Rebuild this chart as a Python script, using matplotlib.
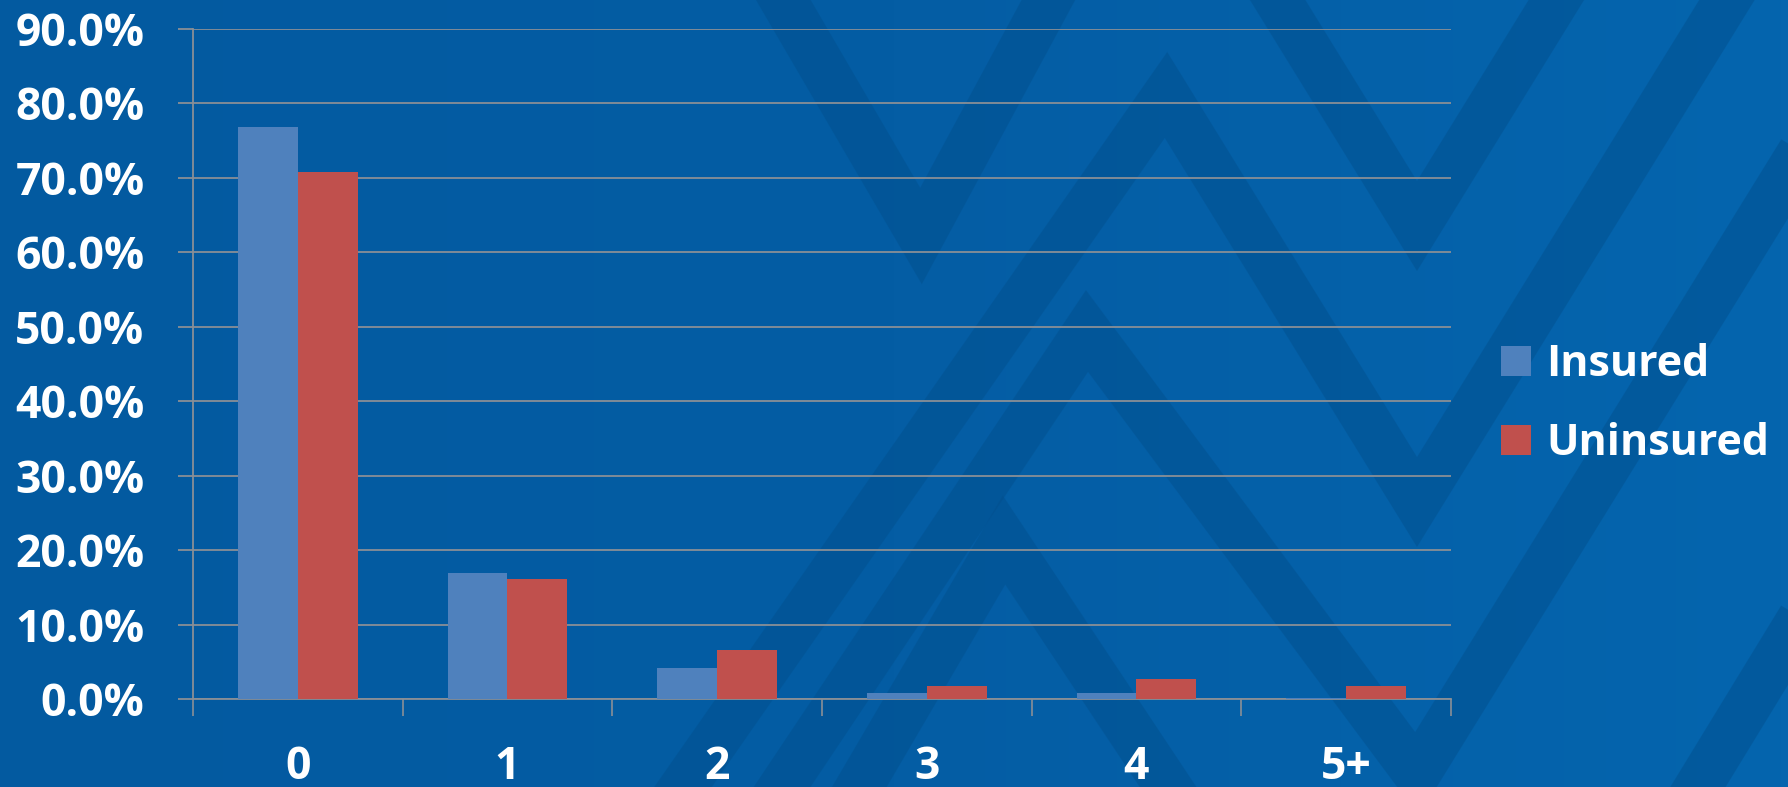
import numpy as np
import matplotlib.pyplot as plt
from matplotlib.colors import LinearSegmentedColormap

# data
categories = ['0', '1', '2', '3', '4', '5+']
insured = [76.8, 16.9, 4.2, 0.8, 0.8, 0.2]
uninsured = [70.8, 16.1, 6.6, 1.8, 2.7, 1.8]
y_ticks = [0, 10, 20, 30, 40, 50, 60, 70, 80, 90]

W, H = 1788, 787
plt.rcParams['font.family'] = ['Open Sans', 'DejaVu Sans']
plt.rcParams['font.weight'] = 'bold'

fig = plt.figure(figsize=(W / 100, H / 100), dpi=100)

# background: blue gradient with darker chevron bands
bg = fig.add_axes([0, 0, 1, 1], zorder=0)
bg.set_xlim(0, W); bg.set_ylim(H, 0); bg.axis('off')
cmap = LinearSegmentedColormap.from_list('bg', ['#035AA0', '#045DA4', '#0565AE'])
grad = np.linspace(0, 1, 256).reshape(1, -1)
bg.imshow(grad, cmap=cmap, extent=[0, W, H, 0], aspect='auto')
bands = [
    [(1253, -40), (1417, 226), (1581, -40)],
    [(660, 820), (1166, 95), (1417, 502), (1730, -5)],
    [(760, 820), (1087, 331), (1417, 774), (1800, 154)],
    [(840, 820), (1004, 540), (1190, 820)],
    [(760, -40), (921, 236), (1070, -40)],
    [(1690, 800), (1800, 620)],
]
for b in bands:
    xs, ys = zip(*b)
    bg.plot(xs, ys, color='#02508E', lw=34, alpha=0.5, solid_joinstyle='miter')

# chart
ax = fig.add_axes([193 / W, 1 - 699 / H, (1451 - 193) / W, (699 - 29) / H], zorder=1)
ax.set_facecolor('none')
x = np.arange(len(categories))
bw = 0.286
ax.bar(x - bw / 2, insured, bw, color='#4F81BD', label='Insured', zorder=3)
ax.bar(x + bw / 2, uninsured, bw, color='#C0504D', label='Uninsured', zorder=3)

ax.set_xlim(-0.5, len(categories) - 0.5)
ax.set_ylim(0, 90)
grid_c = '#8A8F96'
ax.set_yticks(y_ticks)
ax.set_yticklabels(['%.1f%%' % v for v in y_ticks])
ax.yaxis.grid(True, color=grid_c, lw=1.3, zorder=1)
ax.set_axisbelow(True)

ax.set_xticks(np.arange(-0.5, len(categories)), labels=[])
ax.set_xticks(x, labels=categories, minor=True)
ax.tick_params(axis='x', which='major', length=12, width=1.2, color=grid_c)
ax.tick_params(axis='x', which='minor', length=0, pad=33, labelsize=32, labelcolor='white')
ax.tick_params(axis='y', length=11, width=1.3, color=grid_c, pad=24, labelsize=32, labelcolor='white')

for s in ['top', 'right']:
    ax.spines[s].set_visible(False)
for s in ['left', 'bottom']:
    ax.spines[s].set_color(grid_c)
    ax.spines[s].set_linewidth(1.3)

leg = fig.legend(loc='center left', bbox_to_anchor=(1501 / W, 1 - 404 / H), frameon=False,
                 fontsize=31, handlelength=0.7, handleheight=0.7, handletextpad=0.35,
                 labelspacing=0.85, borderpad=0, borderaxespad=0)
for t in leg.get_texts():
    t.set_color('white')

fig.savefig('out.png', dpi=100)
